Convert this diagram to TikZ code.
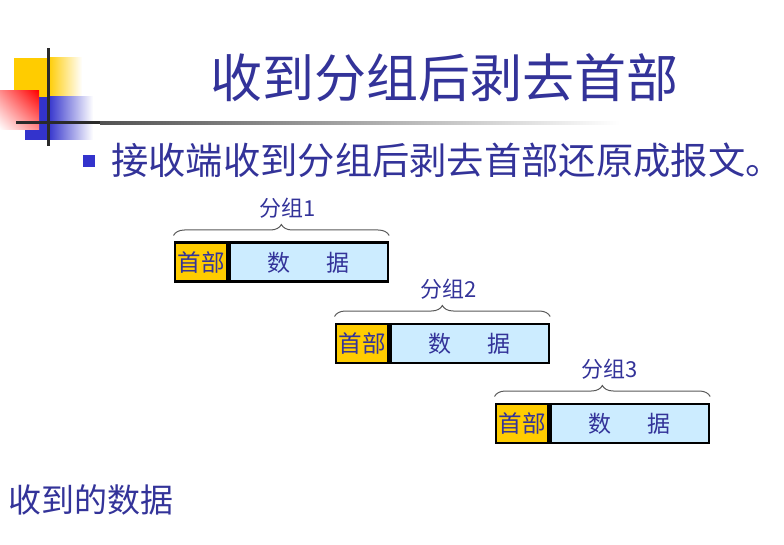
\documentclass[tikz,border=0pt]{standalone}
\usepackage{fontspec}
\setmainfont{Noto Sans CJK SC}
\usetikzlibrary{decorations.pathreplacing,shadings}
\definecolor{txtblue}{HTML}{333399}
\definecolor{hdryellow}{HTML}{FFCC00}
\definecolor{datablue}{HTML}{CCECFF}
\definecolor{logoblue}{HTML}{3333CC}
\definecolor{linegray}{HTML}{2A2A2A}
\tikzset{
  hdr/.style={draw=black, line width=2.6pt, fill=hdryellow, minimum width=52.5pt, minimum height=39pt, inner sep=0pt, anchor=north west, text=txtblue, font=\fontsize{23.5}{25}\selectfont},
  databox/.style={draw=black, line width=2.6pt, fill=datablue, minimum width=158pt, minimum height=39pt, inner sep=0pt, anchor=north west, text=txtblue, font=\fontsize{23}{25}\selectfont},
  grouplabel/.style={text=txtblue, font=\fontsize{22}{24}\selectfont, inner sep=0pt},
  bracestyle/.style={draw=black!65, line width=1pt, decorate, decoration={brace, amplitude=11pt}},
}
\begin{document}
\begin{tikzpicture}[x=1pt, y=-1pt]
\useasboundingbox (0,0) rectangle (784,545);
% logo decoration
\fill[hdryellow] (14,58) rectangle (48,98);
\shade[left color=hdryellow, right color=white] (48,58) rectangle (82,98);
\fill[logoblue] (25,97) rectangle (48,140);
\shade[left color=logoblue, right color=white] (48,97) rectangle (93,140);
\shade[upper right=red, upper left=red!45, lower right=red!45, lower left=white] (0,91) rectangle (39,130);
\fill[linegray] (16,121.5) rectangle (100,124.5);
\shade[left color=black!68, right color=white] (100,121.5) rectangle (620,124.5);
\fill[linegray] (46.5,48) rectangle (49.5,146);
% title
\node[text=txtblue, font=\fontsize{52}{56}\selectfont, inner sep=0pt] (title) at (444,78) {收到分组后剥去首部};
% bullet
\node[fill=logoblue, minimum size=12pt, inner sep=0pt] (bullet) at (89,161) {};
\node[text=txtblue, font=\fontsize{37.3}{40}\selectfont, inner sep=0pt, anchor=west] (line1) at (111,160) {接收端收到分组后剥去首部还原成报文。};
% packets
\node[hdr] (h1) at (173.5,241.5) {首部};
\node[databox] (d1) at (h1.north east) {数\hspace{36pt}据};
\node[hdr] (h2) at (334.5,322.5) {首部};
\node[databox] (d2) at (h2.north east) {数\hspace{36pt}据};
\node[hdr] (h3) at (494.5,402.5) {首部};
\node[databox] (d3) at (h3.north east) {数\hspace{36pt}据};
% braces
\draw[bracestyle] ([yshift=6pt]h1.north west) -- ([yshift=6pt]d1.north east) coordinate[midway, yshift=-11pt] (b1);
\draw[bracestyle] ([yshift=6pt]h2.north west) -- ([yshift=6pt]d2.north east) coordinate[midway, yshift=-11pt] (b2);
\draw[bracestyle] ([yshift=6pt]h3.north west) -- ([yshift=6pt]d3.north east) coordinate[midway, yshift=-11pt] (b3);
\node[grouplabel] (g1) at (288,208) {分组1};
\node[grouplabel] (g2) at (449,289) {分组2};
\node[grouplabel] (g3) at (610,369) {分组3};
% bottom text
\node[text=txtblue, font=\fontsize{33}{36}\selectfont, inner sep=0pt, anchor=west] (recv) at (8,500) {收到的数据};
\end{tikzpicture}
\end{document}
